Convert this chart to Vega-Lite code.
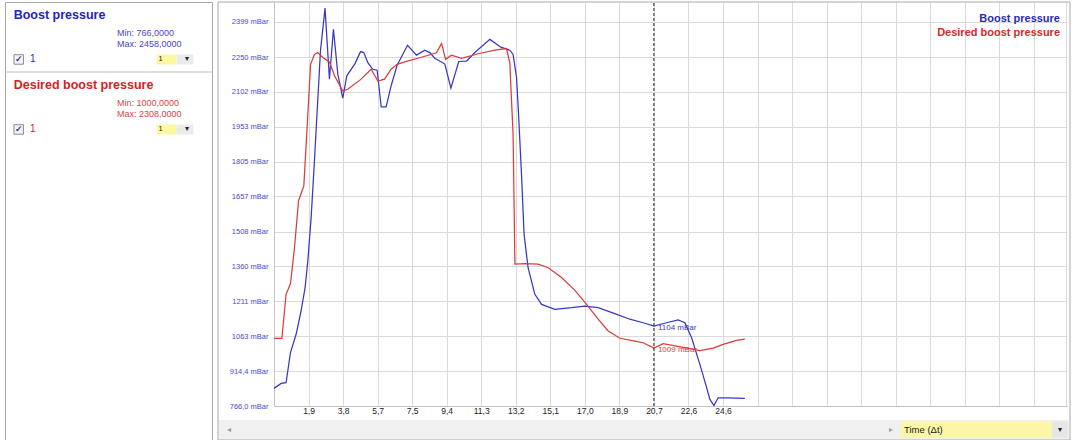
{
  "$schema": "https://vega.github.io/schema/vega-lite/v6.json",
  "background": "white",
  "padding": {"left": 4, "top": 1, "right": 0, "bottom": 0},
  "spacing": 4,
  "config": {
    "font": "Liberation Sans",
    "view": {"stroke": null},
    "text": {"font": "Liberation Sans"}
  },
  "resolve": {"scale": {"color": "independent"}},
  "datasets": {
    "panel": [
      {"series": "Boost pressure", "min": "Min: 766,0000", "max": "Max: 2458,0000", "channel": "1"},
      {"series": "Desired boost pressure", "min": "Min: 1000,0000", "max": "Max: 2308,0000", "channel": "1"}
    ],
    "cursorValues": [
      {"series": "Boost pressure", "t": 20.768, "v": 1106, "label": "1104 mBar"},
      {"series": "Desired boost pressure", "t": 20.768, "v": 1012, "label": "1009 mBar"}
    ],
    "pressure": [
      {"series": "Boost pressure", "t": 0, "v": 841},
      {"series": "Boost pressure", "t": 0.39, "v": 862},
      {"series": "Boost pressure", "t": 0.66, "v": 865},
      {"series": "Boost pressure", "t": 0.9, "v": 993},
      {"series": "Boost pressure", "t": 1.21, "v": 1071},
      {"series": "Boost pressure", "t": 1.48, "v": 1170},
      {"series": "Boost pressure", "t": 1.7, "v": 1269},
      {"series": "Boost pressure", "t": 1.85, "v": 1383},
      {"series": "Boost pressure", "t": 2.03, "v": 1567},
      {"series": "Boost pressure", "t": 2.21, "v": 1808},
      {"series": "Boost pressure", "t": 2.39, "v": 2063},
      {"series": "Boost pressure", "t": 2.54, "v": 2276},
      {"series": "Boost pressure", "t": 2.79, "v": 2458},
      {"series": "Boost pressure", "t": 3.03, "v": 2156},
      {"series": "Boost pressure", "t": 3.25, "v": 2368},
      {"series": "Boost pressure", "t": 3.49, "v": 2176},
      {"series": "Boost pressure", "t": 3.76, "v": 2075},
      {"series": "Boost pressure", "t": 3.98, "v": 2170},
      {"series": "Boost pressure", "t": 4.43, "v": 2222},
      {"series": "Boost pressure", "t": 4.73, "v": 2273},
      {"series": "Boost pressure", "t": 4.91, "v": 2269},
      {"series": "Boost pressure", "t": 5.13, "v": 2226},
      {"series": "Boost pressure", "t": 5.4, "v": 2198},
      {"series": "Boost pressure", "t": 5.64, "v": 2194},
      {"series": "Boost pressure", "t": 5.86, "v": 2038},
      {"series": "Boost pressure", "t": 6.13, "v": 2038},
      {"series": "Boost pressure", "t": 6.4, "v": 2127},
      {"series": "Boost pressure", "t": 6.73, "v": 2215},
      {"series": "Boost pressure", "t": 7.3, "v": 2300},
      {"series": "Boost pressure", "t": 7.79, "v": 2258},
      {"series": "Boost pressure", "t": 8.24, "v": 2279},
      {"series": "Boost pressure", "t": 8.52, "v": 2269},
      {"series": "Boost pressure", "t": 8.79, "v": 2245},
      {"series": "Boost pressure", "t": 9.34, "v": 2220},
      {"series": "Boost pressure", "t": 9.67, "v": 2118},
      {"series": "Boost pressure", "t": 10.1, "v": 2231},
      {"series": "Boost pressure", "t": 10.53, "v": 2233},
      {"series": "Boost pressure", "t": 10.98, "v": 2269},
      {"series": "Boost pressure", "t": 11.8, "v": 2325},
      {"series": "Boost pressure", "t": 12.4, "v": 2292},
      {"series": "Boost pressure", "t": 12.89, "v": 2279},
      {"series": "Boost pressure", "t": 13.07, "v": 2261},
      {"series": "Boost pressure", "t": 13.26, "v": 2162},
      {"series": "Boost pressure", "t": 13.35, "v": 2035},
      {"series": "Boost pressure", "t": 13.53, "v": 1752},
      {"series": "Boost pressure", "t": 13.67, "v": 1496},
      {"series": "Boost pressure", "t": 13.89, "v": 1354},
      {"series": "Boost pressure", "t": 14.26, "v": 1241},
      {"series": "Boost pressure", "t": 14.63, "v": 1198},
      {"series": "Boost pressure", "t": 15.35, "v": 1177},
      {"series": "Boost pressure", "t": 16.27, "v": 1184},
      {"series": "Boost pressure", "t": 16.99, "v": 1191},
      {"series": "Boost pressure", "t": 17.72, "v": 1184},
      {"series": "Boost pressure", "t": 18.63, "v": 1159},
      {"series": "Boost pressure", "t": 19.45, "v": 1135},
      {"series": "Boost pressure", "t": 20.18, "v": 1120},
      {"series": "Boost pressure", "t": 20.77, "v": 1106},
      {"series": "Boost pressure", "t": 21.46, "v": 1120},
      {"series": "Boost pressure", "t": 22.09, "v": 1132},
      {"series": "Boost pressure", "t": 22.46, "v": 1120},
      {"series": "Boost pressure", "t": 22.83, "v": 1056},
      {"series": "Boost pressure", "t": 23.28, "v": 943},
      {"series": "Boost pressure", "t": 23.65, "v": 844},
      {"series": "Boost pressure", "t": 23.83, "v": 794},
      {"series": "Boost pressure", "t": 24.05, "v": 768},
      {"series": "Boost pressure", "t": 24.28, "v": 801},
      {"series": "Boost pressure", "t": 24.74, "v": 801},
      {"series": "Boost pressure", "t": 25.74, "v": 798},
      {"series": "Desired boost pressure", "t": 0, "v": 1054},
      {"series": "Desired boost pressure", "t": 0.43, "v": 1054},
      {"series": "Desired boost pressure", "t": 0.66, "v": 1241},
      {"series": "Desired boost pressure", "t": 0.9, "v": 1286},
      {"series": "Desired boost pressure", "t": 1.12, "v": 1439},
      {"series": "Desired boost pressure", "t": 1.34, "v": 1638},
      {"series": "Desired boost pressure", "t": 1.63, "v": 1702},
      {"series": "Desired boost pressure", "t": 1.81, "v": 1950},
      {"series": "Desired boost pressure", "t": 2.0, "v": 2219},
      {"series": "Desired boost pressure", "t": 2.21, "v": 2261},
      {"series": "Desired boost pressure", "t": 2.39, "v": 2269},
      {"series": "Desired boost pressure", "t": 2.67, "v": 2248},
      {"series": "Desired boost pressure", "t": 3.03, "v": 2229},
      {"series": "Desired boost pressure", "t": 3.31, "v": 2170},
      {"series": "Desired boost pressure", "t": 3.76, "v": 2106},
      {"series": "Desired boost pressure", "t": 4.03, "v": 2113},
      {"series": "Desired boost pressure", "t": 4.76, "v": 2156},
      {"series": "Desired boost pressure", "t": 5.31, "v": 2198},
      {"series": "Desired boost pressure", "t": 5.68, "v": 2148},
      {"series": "Desired boost pressure", "t": 6.04, "v": 2156},
      {"series": "Desired boost pressure", "t": 6.4, "v": 2198},
      {"series": "Desired boost pressure", "t": 6.73, "v": 2219},
      {"series": "Desired boost pressure", "t": 7.15, "v": 2229},
      {"series": "Desired boost pressure", "t": 8.06, "v": 2249},
      {"series": "Desired boost pressure", "t": 8.88, "v": 2268},
      {"series": "Desired boost pressure", "t": 9.16, "v": 2308},
      {"series": "Desired boost pressure", "t": 9.38, "v": 2240},
      {"series": "Desired boost pressure", "t": 9.7, "v": 2258},
      {"series": "Desired boost pressure", "t": 10.25, "v": 2244},
      {"series": "Desired boost pressure", "t": 11.16, "v": 2264},
      {"series": "Desired boost pressure", "t": 12.07, "v": 2279},
      {"series": "Desired boost pressure", "t": 12.71, "v": 2286},
      {"series": "Desired boost pressure", "t": 12.89, "v": 2226},
      {"series": "Desired boost pressure", "t": 13.07, "v": 1921},
      {"series": "Desired boost pressure", "t": 13.17, "v": 1369},
      {"series": "Desired boost pressure", "t": 13.71, "v": 1371},
      {"series": "Desired boost pressure", "t": 14.44, "v": 1369},
      {"series": "Desired boost pressure", "t": 14.99, "v": 1354},
      {"series": "Desired boost pressure", "t": 15.72, "v": 1312},
      {"series": "Desired boost pressure", "t": 16.45, "v": 1258},
      {"series": "Desired boost pressure", "t": 17.09, "v": 1198},
      {"series": "Desired boost pressure", "t": 17.72, "v": 1135},
      {"series": "Desired boost pressure", "t": 18.27, "v": 1085},
      {"series": "Desired boost pressure", "t": 18.91, "v": 1054},
      {"series": "Desired boost pressure", "t": 19.73, "v": 1042},
      {"series": "Desired boost pressure", "t": 20.18, "v": 1035},
      {"series": "Desired boost pressure", "t": 20.77, "v": 1012},
      {"series": "Desired boost pressure", "t": 21.27, "v": 1031},
      {"series": "Desired boost pressure", "t": 22.01, "v": 1021},
      {"series": "Desired boost pressure", "t": 22.64, "v": 1011},
      {"series": "Desired boost pressure", "t": 23.28, "v": 1002},
      {"series": "Desired boost pressure", "t": 24.01, "v": 1012},
      {"series": "Desired boost pressure", "t": 24.55, "v": 1028},
      {"series": "Desired boost pressure", "t": 25.29, "v": 1045},
      {"series": "Desired boost pressure", "t": 25.74, "v": 1050}
    ]
  },
  "hconcat": [
    {
      "width": 207,
      "height": 438,
      "view": {"stroke": "#a8a8a8", "fill": "white"},
      "data": {"name": "panel"},
      "layer": [
        {
          "mark": {"type": "rule", "color": "#bdbdbd", "strokeWidth": 1},
          "transform": [{"filter": "datum.series === 'Boost pressure'"}],
          "encoding": {
            "y": {"field": "series", "type": "nominal", "bandPosition": 1, "scale": {"type": "band", "domain": ["Boost pressure", "Desired boost pressure"], "range": [0, 140], "paddingInner": 0, "paddingOuter": 0}, "axis": null}
          }
        },
        {
          "mark": {"type": "text", "align": "left", "baseline": "middle", "fontSize": 12.5, "fontWeight": "bold"},
          "encoding": {
            "text": {"field": "series"},
            "x": {"value": 8.7},
            "y": {"field": "series", "type": "nominal", "bandPosition": 0.18, "scale": {"type": "band", "domain": ["Boost pressure", "Desired boost pressure"], "range": [0, 140], "paddingInner": 0, "paddingOuter": 0}, "axis": null},
            "color": {"field": "series", "type": "nominal", "scale": {"domain": ["Boost pressure", "Desired boost pressure"], "range": ["#2424c0", "#d42222"]}, "legend": null}
          }
        },
        {
          "mark": {"type": "text", "align": "left", "baseline": "middle", "fontSize": 9, "opacity": 0.85},
          "encoding": {
            "text": {"field": "min"},
            "x": {"value": 112},
            "y": {"field": "series", "type": "nominal", "bandPosition": 0.436, "axis": null},
            "color": {"field": "series", "type": "nominal", "legend": null}
          }
        },
        {
          "mark": {"type": "text", "align": "left", "baseline": "middle", "fontSize": 9, "opacity": 0.85},
          "encoding": {
            "text": {"field": "max"},
            "x": {"value": 112},
            "y": {"field": "series", "type": "nominal", "bandPosition": 0.6, "axis": null},
            "color": {"field": "series", "type": "nominal", "legend": null}
          }
        },
        {
          "mark": {"type": "point", "shape": "square", "size": 90, "filled": true, "fill": "#f4f4f4", "stroke": "#8c8c8c", "strokeWidth": 1, "opacity": 1},
          "encoding": {
            "x": {"value": 13.7},
            "y": {"field": "series", "type": "nominal", "bandPosition": 0.821, "axis": null}
          }
        },
        {
          "mark": {"type": "text", "align": "center", "baseline": "middle", "fontSize": 9, "fontWeight": "bold", "color": "#2a3a9a"},
          "encoding": {
            "text": {"value": "✓"},
            "x": {"value": 13.9},
            "y": {"field": "series", "type": "nominal", "bandPosition": 0.821, "axis": null}
          }
        },
        {
          "mark": {"type": "text", "align": "left", "baseline": "middle", "fontSize": 10},
          "encoding": {
            "text": {"field": "channel"},
            "x": {"value": 25},
            "y": {"field": "series", "type": "nominal", "bandPosition": 0.821, "axis": null},
            "color": {"field": "series", "type": "nominal", "legend": null}
          }
        },
        {
          "mark": {"type": "point", "shape": "M-1,-0.5H1V0.5H-1Z", "size": 400, "filled": true, "fill": "#fbf7a2", "strokeWidth": 0, "opacity": 1},
          "encoding": {
            "x": {"value": 161.7},
            "y": {"field": "series", "type": "nominal", "bandPosition": 0.821, "axis": null}
          }
        },
        {
          "mark": {"type": "point", "shape": "M-1,-0.6H1V0.6H-1Z", "size": 277, "filled": true, "fill": "#ebebeb", "strokeWidth": 0, "opacity": 1},
          "encoding": {
            "x": {"value": 180},
            "y": {"field": "series", "type": "nominal", "bandPosition": 0.821, "axis": null}
          }
        },
        {
          "mark": {"type": "text", "align": "left", "baseline": "middle", "fontSize": 7.5, "color": "#222222"},
          "encoding": {
            "text": {"field": "channel"},
            "x": {"value": 153.5},
            "y": {"field": "series", "type": "nominal", "bandPosition": 0.821, "axis": null}
          }
        },
        {
          "mark": {"type": "text", "align": "center", "baseline": "middle", "fontSize": 8, "color": "#222222"},
          "encoding": {
            "text": {"value": "▾"},
            "x": {"value": 181.5},
            "y": {"field": "series", "type": "nominal", "bandPosition": 0.821, "axis": null}
          }
        }
      ]
    },
    {
      "width": 852,
      "height": 404,
      "view": {"stroke": null},
      "data": {"name": "pressure"},
      "encoding": {
        "x": {
          "field": "t", "type": "quantitative",
          "scale": {"domain": [0, 43.35], "range": [56, 849], "nice": false, "zero": false},
          "axis": {
            "orient": "bottom", "title": null,
            "values": [1.888, 3.776, 5.664, 7.552, 9.44, 11.328, 13.216, 15.104, 16.992, 18.88, 20.768, 22.656, 24.544, 26.432, 28.32, 30.208, 32.096, 33.984, 35.872, 37.76, 39.648, 41.536, 43.3],
            "labelExpr": "['1,9','3,8','5,7','7,5','9,4','11,3','13,2','15,1','17,0','18,9','20,7','22,6','24,6'][round(datum.value/1.888)-1] || ''",
            "labelFont": "Liberation Sans", "labelFontSize": 8.5, "labelColor": "#222222",
            "labelPadding": 0, "labelFlush": false, "labelOverlap": false,
            "ticks": false, "tickSize": 0,
            "grid": true, "gridColor": "#dadada", "gridWidth": 1,
            "domain": true, "domainColor": "#c4c4c4"
          }
        },
        "y": {
          "field": "v", "type": "quantitative",
          "scale": {"domain": [766, 2484], "nice": false, "zero": false},
          "axis": {
            "orient": "left", "offset": -56, "title": null,
            "values": [766, 914.4, 1063, 1211, 1360, 1508, 1657, 1805, 1953, 2102, 2250, 2399],
            "labelExpr": "replace(format(datum.value, '.4r'), '.', ',') + ' mBar'",
            "labelFont": "Liberation Sans", "labelFontSize": 7.5, "labelColor": "#4a4acc",
            "labelPadding": 6, "labelFlush": false, "labelOverlap": false,
            "ticks": false, "tickSize": 0,
            "grid": true, "gridColor": "#dadada", "gridWidth": 1,
            "domain": true, "domainColor": "#c4c4c4"
          }
        },
        "color": {
          "field": "series", "type": "nominal",
          "scale": {"domain": ["Boost pressure", "Desired boost pressure"], "range": ["#3838c4", "#dc3c3c"]},
          "legend": null
        }
      },
      "layer": [
        {
          "mark": {"type": "line", "strokeWidth": 1.25}
        },
        {
          "data": {"name": "cursorValues"},
          "transform": [{"filter": "datum.series === 'Boost pressure'"}],
          "mark": {"type": "rule", "color": "#222222", "strokeWidth": 1, "strokeDash": [3, 2]},
          "encoding": {
            "y": {"datum": 766},
            "y2": {"datum": 2484},
            "color": {"value": "#222222"}
          }
        },
        {
          "data": {"name": "cursorValues"},
          "mark": {"type": "text", "align": "left", "baseline": "middle", "fontSize": 8, "dx": 4, "dy": 2},
          "encoding": {
            "text": {"field": "label"}
          }
        },
        {
          "data": {"values": [{}]},
          "mark": {"type": "rect", "fill": "#f0f0f0", "strokeWidth": 0},
          "encoding": {"x": {"value": 1}, "x2": {"value": 851}, "y": {"value": 418}, "y2": {"value": 437.5}, "color": {"value": "#f0f0f0"}}
        },
        {
          "data": {"values": [{}]},
          "mark": {"type": "rect", "fill": "#fbf7a6", "strokeWidth": 0},
          "encoding": {"x": {"value": 682.7}, "x2": {"value": 834}, "y": {"value": 419.5}, "y2": {"value": 435.7}, "color": {"value": "#fbf7a6"}}
        },
        {
          "data": {"values": [{}]},
          "mark": {"type": "rect", "fill": "#e6e6e6", "strokeWidth": 0},
          "encoding": {"x": {"value": 834}, "x2": {"value": 850}, "y": {"value": 419.5}, "y2": {"value": 435.7}, "color": {"value": "#e6e6e6"}}
        },
        {
          "data": {"values": [{}]},
          "mark": {"type": "rect", "fillOpacity": 0, "stroke": "#a8a8a8", "strokeWidth": 1},
          "encoding": {"x": {"value": 0}, "x2": {"value": 852}, "y": {"value": 0}, "y2": {"value": 438}, "color": {"value": "#a8a8a8"}}
        },
        {
          "data": {"values": [{}]},
          "mark": {"type": "text", "align": "right", "baseline": "middle", "fontSize": 11, "fontWeight": "bold"},
          "encoding": {"x": {"value": 842}, "y": {"value": 17}, "text": {"value": "Boost pressure"}, "color": {"value": "#2a2ab4"}}
        },
        {
          "data": {"values": [{}]},
          "mark": {"type": "text", "align": "right", "baseline": "middle", "fontSize": 11, "fontWeight": "bold"},
          "encoding": {"x": {"value": 842}, "y": {"value": 31}, "text": {"value": "Desired boost pressure"}, "color": {"value": "#d42a2a"}}
        },
        {
          "data": {"values": [{}]},
          "mark": {"type": "text", "align": "center", "baseline": "middle", "fontSize": 8},
          "encoding": {"x": {"value": 11}, "y": {"value": 427.5}, "text": {"value": "◂"}, "color": {"value": "#9a9a9a"}}
        },
        {
          "data": {"values": [{}]},
          "mark": {"type": "text", "align": "center", "baseline": "middle", "fontSize": 8},
          "encoding": {"x": {"value": 672.7}, "y": {"value": 427.5}, "text": {"value": "▸"}, "color": {"value": "#a0a0a0"}}
        },
        {
          "data": {"values": [{}]},
          "mark": {"type": "text", "align": "left", "baseline": "middle", "fontSize": 9.5},
          "encoding": {"x": {"value": 686}, "y": {"value": 427.5}, "text": {"value": "Time (Δt)"}, "color": {"value": "#1a1a1a"}}
        },
        {
          "data": {"values": [{}]},
          "mark": {"type": "text", "align": "center", "baseline": "middle", "fontSize": 8},
          "encoding": {"x": {"value": 842}, "y": {"value": 428}, "text": {"value": "▾"}, "color": {"value": "#222222"}}
        }
      ]
    }
  ]
}
